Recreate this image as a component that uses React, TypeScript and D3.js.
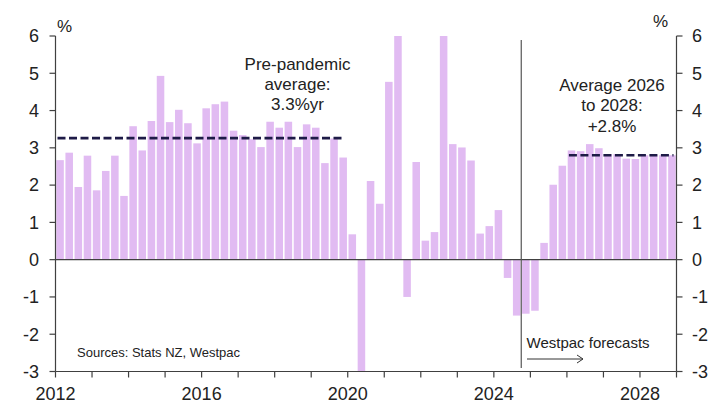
import React from "react";
import * as d3 from "d3";

const startYear = 2012;
const endYear = 2029;
// Quarterly annual % change, 2012Q1 .. 2028Q4 (clipped to chart range where bars run off)
const values: number[] = [
  2.67, 2.87, 1.95, 2.79,
  1.86, 2.38, 2.79, 1.71,
  3.58, 2.93, 3.72, 4.93,
  3.69, 4.02, 3.66, 3.12,
  4.06, 4.17, 4.24, 3.46,
  3.34, 3.23, 3.02, 3.70,
  3.54, 3.70, 3.02, 3.63,
  3.54, 2.59, 3.25, 2.74,
  0.68, -3.0, 2.11, 1.50,
  4.77, 6.0, -1.0, 2.62,
  0.51, 0.74, 6.0, 3.10,
  3.01, 2.66, 0.70, 0.90,
  1.33, -0.49, -1.50, -1.45,
  -1.37, 0.45, 2.01, 2.52,
  2.93, 2.91, 3.10, 2.99,
  2.83, 2.83, 2.71, 2.70,
  2.80, 2.80, 2.80, 2.80,
];
const yTicks = [-3, -2, -1, 0, 1, 2, 3, 4, 5, 6];
const xLabelYears = [2012, 2016, 2020, 2024, 2028];
const preAvg = { from: 2012, to: 2020, value: 3.26 };
const fcAvg = { from: 2026, to: 2029, value: 2.8 };
const forecastStart = 2024.75;
const preText = ["Pre-pandemic", "average:", "3.3%yr"];
const fcText = ["Average 2026", "to 2028:", "+2.8%"];

const W = 711;
const H = 401;
const left = 55.5;
const right = 676.5;
const top = 36;
const bottom = 371.5;

const BAR = "#e1bbf2";
const DARK = "#1e1b47";
const TEXT = "#222222";
const AXIS = "#404040";
const FONT = "Liberation Sans, Arial, sans-serif";

export default function App() {
  const x = d3.scaleLinear().domain([startYear, endYear]).range([left, right]);
  const y = d3.scaleLinear().domain([-3, 6]).range([bottom, top]).clamp(true);
  const years = d3.range(startYear, endYear + 1);
  const pad = 0.8;

  return (
    <svg
      width={W}
      height={H}
      style={{ position: "absolute", left: 0, top: 0, background: "#fff" }}
      fontFamily={FONT}
    >
      {values.map((v, i) => {
        const t0 = startYear + i / 4;
        const x0 = x(t0) + pad;
        const x1 = x(t0 + 0.25) - pad;
        const y0 = y(Math.max(0, v));
        const y1 = y(Math.min(0, v));
        return (
          <rect key={i} x={x0} y={y0} width={x1 - x0} height={Math.max(0, y1 - y0)} fill={BAR} />
        );
      })}

      {/* zero line */}
      <line x1={left} x2={right} y1={y(0)} y2={y(0)} stroke={AXIS} strokeWidth={1.2} />

      {/* averages */}
      <line
        x1={x(preAvg.from) + 2}
        x2={x(preAvg.to) - 6}
        y1={y(preAvg.value)}
        y2={y(preAvg.value)}
        stroke={DARK}
        strokeWidth={2.6}
        strokeDasharray="8,3.5"
      />
      <line
        x1={x(fcAvg.from) + 2}
        x2={x(fcAvg.to) - 3}
        y1={y(fcAvg.value)}
        y2={y(fcAvg.value)}
        stroke={DARK}
        strokeWidth={2.6}
        strokeDasharray="8,3.5"
      />

      {/* forecast divider */}
      <line x1={x(forecastStart)} x2={x(forecastStart)} y1={40} y2={368} stroke="#555" strokeWidth={1.2} />

      {/* axes */}
      <line x1={left} x2={left} y1={top} y2={bottom} stroke={AXIS} strokeWidth={1.2} />
      <line x1={right} x2={right} y1={top} y2={bottom} stroke={AXIS} strokeWidth={1.2} />
      <line x1={left} x2={right} y1={bottom} y2={bottom} stroke={AXIS} strokeWidth={1.2} />

      {yTicks.map((t) => (
        <g key={t}>
          <line x1={left - 6} x2={left} y1={y(t)} y2={y(t)} stroke={AXIS} strokeWidth={1.2} />
          <line x1={right} x2={right + 6} y1={y(t)} y2={y(t)} stroke={AXIS} strokeWidth={1.2} />
          <text x={39} y={y(t) + 6.3} textAnchor="end" fontSize={18} fill={TEXT}>
            {t}
          </text>
          <text x={692} y={y(t) + 6.3} textAnchor="start" fontSize={18} fill={TEXT}>
            {t}
          </text>
        </g>
      ))}

      {years.map((yr) => (
        <line key={yr} x1={x(yr)} x2={x(yr)} y1={bottom} y2={bottom + 6} stroke={AXIS} strokeWidth={1.2} />
      ))}
      {xLabelYears.map((yr) => (
        <text key={yr} x={x(yr)} y={400} textAnchor="middle" fontSize={18} fill={TEXT}>
          {yr}
        </text>
      ))}

      <text x={57} y={31.5} fontSize={17} fill={TEXT}>%</text>
      <text x={653} y={26.5} fontSize={17} fill={TEXT}>%</text>

      {preText.map((s, i) => (
        <text key={s} x={297.5} y={69.5 + i * 20.3} textAnchor="middle" fontSize={17} fill={TEXT}>
          {s}
        </text>
      ))}
      {fcText.map((s, i) => (
        <text key={s} x={612} y={91 + i * 20.3} textAnchor="middle" fontSize={17} fill={TEXT}>
          {s}
        </text>
      ))}

      <text x={77} y={357} fontSize={13} fill={TEXT}>Sources: Stats NZ, Westpac</text>

      <text x={526.5} y={348} fontSize={15} fill={TEXT}>Westpac forecasts</text>
      <line x1={527} x2={583} y1={359} y2={359} stroke="#333" strokeWidth={1} />
      <path d="M577,355 L583,359 L577,363" fill="none" stroke="#333" strokeWidth={1} />
    </svg>
  );
}
